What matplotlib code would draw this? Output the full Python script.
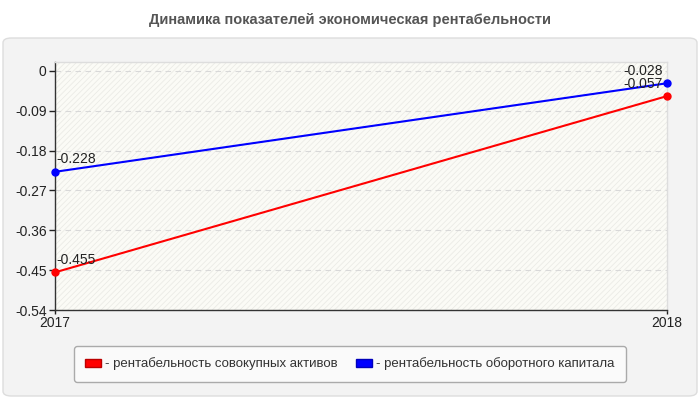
import matplotlib
matplotlib.use("Agg")
import matplotlib.pyplot as plt
from matplotlib.patches import FancyBboxPatch, Rectangle, Patch

plt.rcParams['font.family'] = ['Liberation Sans', 'DejaVu Sans']
plt.rcParams['hatch.linewidth'] = 0.6

years = ["2017", "2018"]
assets = [-0.455, -0.057]
working = [-0.228, -0.028]
series_names = ["- рентабельность совокупных активов", "- рентабельность оборотного капитала"]
yticks = [0, -0.09, -0.18, -0.27, -0.36, -0.45, -0.54]
ytick_labels = ["0", "-0.09", "-0.18", "-0.27", "-0.36", "-0.45", "-0.54"]
title = "Динамика показателей экономическая рентабельности"

fig = plt.figure(figsize=(7, 4), dpi=100)
fig.patch.set_facecolor('white')

panel = FancyBboxPatch((3/700, 4/400), 694/700, 358/400,
                       boxstyle="round,pad=0,rounding_size=0.012",
                       transform=fig.transFigure, facecolor='#f3f3f3',
                       edgecolor='#dddddd', linewidth=1, zorder=-10)
fig.patches.append(panel)

fig.text(0.5, 1 - 20/400, title, ha='center', va='center', fontsize=10.5,
         fontweight='bold', color='#555555')

ax = fig.add_axes([55/700, 90/400, 612/700, 248/400])
ax.set_zorder(1)
ax.set_facecolor('#fbfbf6')
ax.add_patch(Rectangle((0, 0), 1, 1, transform=ax.transAxes, facecolor='none',
                       edgecolor='#ebebe6', hatch='//////', linewidth=0, zorder=0))

x = list(range(len(years)))
ax.plot(x, assets, color='#ff0000', lw=1.5, marker='o', ms=5, zorder=3, clip_on=False)
ax.plot(x, working, color='#0000ff', lw=1.5, marker='o', ms=5, zorder=3, clip_on=False)

for vals in (assets, working):
    for xi, v in zip(x, vals):
        if xi == 0:
            ax.annotate(f"{v:.3f}", (xi, v), xytext=(1, 9), textcoords='offset points',
                        ha='left', va='center', fontsize=10, color='#222222', zorder=4)
        else:
            ax.annotate(f"{v:.3f}", (xi, v), xytext=(-3, 9), textcoords='offset points',
                        ha='right', va='center', fontsize=10, color='#222222', zorder=4)

ax.set_xlim(0, 1)
ax.set_ylim(-0.54, 0.02)
ax.set_xticks(x)
ax.set_xticklabels(years)
ax.set_yticks(yticks)
ax.set_yticklabels(ytick_labels)
ax.tick_params(axis='both', labelsize=10, colors='#222222', length=4, width=1, pad=2)
ax.tick_params(axis='x', length=3, pad=1)
ax.grid(axis='y', color='#d8d8d8', linestyle=(0, (5, 4)), linewidth=0.8)
ax.set_axisbelow(True)
for s in ('left', 'bottom'):
    ax.spines[s].set_color('#333333')
    ax.spines[s].set_linewidth(1)
for s in ('top', 'right'):
    ax.spines[s].set_color('#dddddd')
    ax.spines[s].set_linewidth(1)

handles = [Patch(facecolor='#ff0000', edgecolor='#bb0000'),
           Patch(facecolor='#0000ff', edgecolor='#0000bb')]
leg = fig.legend(handles, series_names, loc='center', ncol=2,
                 bbox_to_anchor=(350/700, 1 - 364/400), fontsize=9.5,
                 frameon=True, fancybox=True, handlelength=1.2, handleheight=0.6,
                 handletextpad=0.3, columnspacing=1.4, borderpad=0.85,
                 labelcolor='#333333')
leg.get_frame().set_facecolor('#fafafa')
leg.get_frame().set_edgecolor('#aaaaaa')
leg.get_frame().set_alpha(1)

fig.savefig('out.png', dpi=100)
